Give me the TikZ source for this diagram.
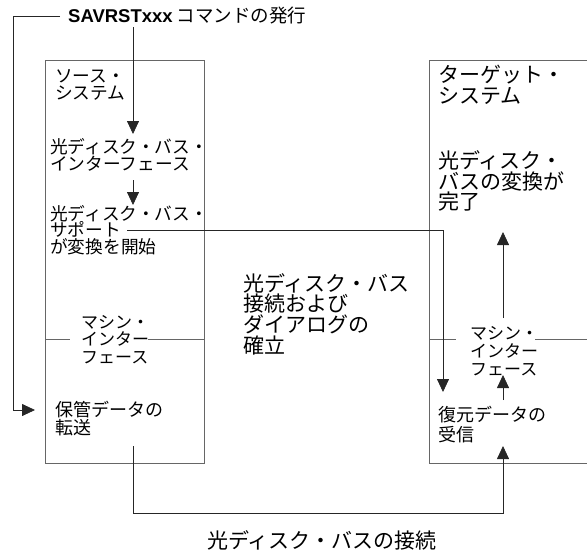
\documentclass[tikz,border=0pt]{standalone}
\usepackage{fontspec}
\setmainfont{Noto Sans CJK JP}
\newfontfamily\hv{Liberation Sans}
\usetikzlibrary{arrows.meta}

\begin{document}
\begin{tikzpicture}[x=1pt,y=-1pt,
  sm/.style={anchor=west,align=left,inner sep=0pt,font=\fontsize{17.7pt}{16.5pt}\selectfont},
  lg/.style={anchor=west,align=left,inner sep=0pt,font=\fontsize{21pt}{20.7pt}\selectfont},
  box/.style={draw=black!60,line width=0.9pt},
  arr/.style={draw=black!85,line width=0.8pt,-{Triangle[length=13pt,width=12pt]}}]
\useasboundingbox (0,0) rectangle (587,550);

% systems
\draw[box] (45,60) rectangle (204,463);
\draw[box] (587,60) -- (429,60) -- (429,463) -- (587,463);
\draw[box] (45,339) -- (70,339) (148,339) -- (204,339);
\draw[box] (429,339) -- (456,339) (535,339) -- (587,339);

\node[sm,font=\fontsize{18.5pt}{18pt}\selectfont] (savrst) at (68,16) {{\hv\bfseries SAVRSTxxx} コマンドの発行};
\node[sm] (srcsys) at (55,85) {ソース・\\システム};
\node[sm] (bifc) at (50,155) {光ディスク・バス・\\インターフェース};
\node[sm] (bsup) at (50,230) {光ディスク・バス・\\サポート\\が変換を開始};
\node[sm,font=\fontsize{17pt}{17.5pt}\selectfont] (smi) at (81,339.5) {マシン・\\インター\\フェース};
\node[sm,font=\fontsize{18pt}{18pt}\selectfont] (save) at (55,419) {保管データの\\転送};
\node[lg] (estab) at (243,314) {光ディスク・バス\\接続および\\ダイアログの\\確立};
\node[lg] (tgtsys) at (438,84.5) {ターゲット・\\システム};
\node[lg] (done) at (438,181) {光ディスク・\\バスの変換が\\完了};
\node[sm,font=\fontsize{17pt}{18pt}\selectfont] (tmi) at (470,351) {マシン・\\インター\\フェース};
\node[sm,font=\fontsize{18pt}{20pt}\selectfont] (rest) at (438,425) {復元データの\\受信};
\node[lg] (conn) at (207,540) {光ディスク・バスの接続};

\coordinate (lft) at (13,16);
\coordinate (in) at (35,410);
\coordinate (d0) at (133,27);
\coordinate (d1) at (133,134);
\coordinate (d2) at (133,180);
\coordinate (d3) at (133,205);
\coordinate (s0) at (127,230);
\coordinate (s1) at (443,392);
\coordinate (u0) at (503,318);
\coordinate (u1) at (503,232);
\coordinate (u2) at (503,400);
\coordinate (u3) at (503,375);
\coordinate (g0) at (133,446);
\coordinate (g1) at (503,513);
\coordinate (g2) at (503,446);

\draw[arr] ([xshift=-8pt]savrst.west) -- (lft) |- (in);
\draw[arr] (d0) -- (d1);
\draw[arr] (d2) -- (d3);
\draw[arr] (s0) -| (s1);
\draw[arr] (u0) -- (u1);
\draw[arr] (u2) -- (u3);
\draw[arr] (g0) |- (g1) -- (g2);
\end{tikzpicture}
\end{document}
